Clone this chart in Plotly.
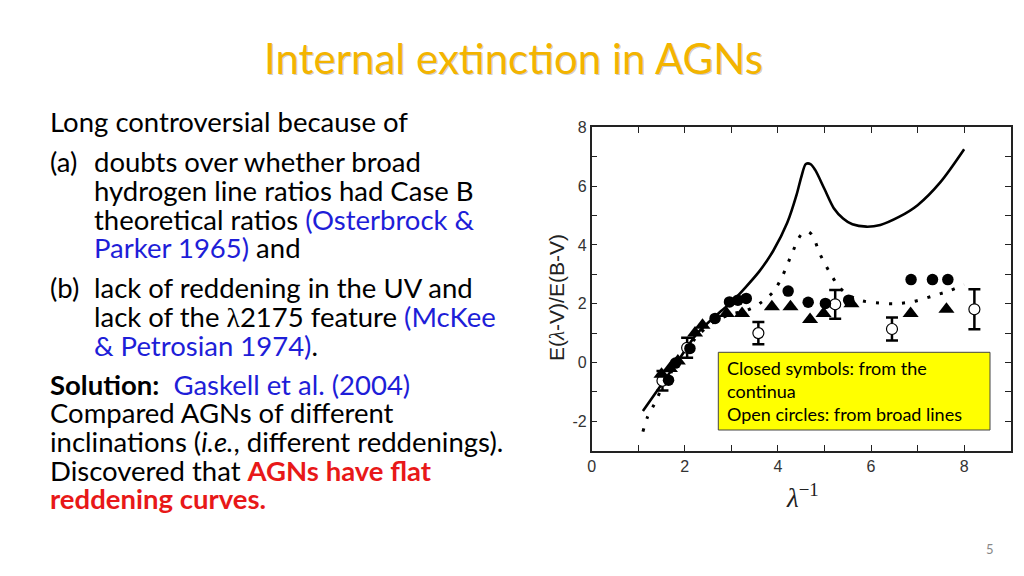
import plotly.graph_objects as go

# ---------------- data ----------------
solid_x = [1.1, 1.5, 1.83, 2.27, 2.78, 3.0, 3.3, 3.6, 3.9, 4.2, 4.4, 4.5, 4.6, 4.7, 4.8, 5.0, 5.2, 5.4, 5.6, 5.9, 6.2, 6.6, 7.0, 7.5, 8.0]
solid_y = [-1.65, -0.75, 0.0, 1.0, 1.75, 2.05, 2.55, 3.1, 3.8, 4.75, 5.7, 6.3, 6.75, 6.75, 6.55, 5.9, 5.25, 4.9, 4.7, 4.62, 4.68, 4.95, 5.35, 6.15, 7.25]

dotted_x = [1.1, 1.2, 1.35, 1.5, 1.8, 2.0, 2.3, 2.6, 3.0, 3.3, 3.6, 3.9, 4.1, 4.3, 4.5, 4.65, 4.75, 4.9, 5.1, 5.3, 5.5, 5.8, 6.1, 6.5, 6.9, 7.3, 7.7, 8.0]
dotted_y = [-2.35, -1.85, -1.4, -0.9, -0.1, 0.35, 0.95, 1.35, 1.65, 1.75, 2.0, 2.4, 2.95, 3.7, 4.35, 4.45, 4.3, 3.7, 3.1, 2.6, 2.3, 2.1, 2.03, 2.0, 2.07, 2.25, 2.45, 2.65]

circle_x = [1.65, 1.80, 2.11, 2.65, 2.96, 3.14, 3.32, 4.22, 4.65, 5.02, 5.52, 6.86, 7.32, 7.65]
circle_y = [-0.6, -0.02, 0.48, 1.5, 2.06, 2.12, 2.18, 2.43, 2.05, 2.01, 2.12, 2.82, 2.82, 2.82]

tri_x = [1.50, 1.68, 1.85, 2.22, 2.38, 2.90, 3.23, 3.87, 4.27, 4.69, 4.98, 5.58, 6.85, 7.62]
tri_y = [-0.4, -0.2, 0.05, 1.0, 1.27, 1.67, 1.67, 1.9, 1.9, 1.46, 1.67, 2.0, 1.67, 1.81]

open_x = [1.52, 2.05, 3.58, 5.23, 6.45, 8.22]
open_y = [-0.62, 0.5, 1.0, 1.98, 1.14, 1.81]
open_err = [0.33, 0.34, 0.38, 0.49, 0.39, 0.68]

x_ticks = [0, 2, 4, 6, 8]
x_tick_labels = ["0", "2", "4", "6", "8"]
y_ticks = [-2, 0, 2, 4, 6, 8]
y_tick_labels = ["-2", "0", "2", "4", "6", "8"]

# ---------------- helpers ----------------
W, H = 1024, 576
OFF = 8  # page body margin of the html page
def xp(px):
    return (px - OFF) / W
def yp(py):
    return 1 - (py - OFF) / H

fig = go.Figure()

fig.add_trace(go.Scatter(x=solid_x, y=solid_y, mode="lines",
                         line=dict(color="black", width=2.6, shape="spline", smoothing=0.8),
                         hoverinfo="skip", showlegend=False))
fig.add_trace(go.Scatter(x=dotted_x, y=dotted_y, mode="lines",
                         line=dict(color="black", width=3, shape="spline", smoothing=0.8, dash="3px,10px"),
                         hoverinfo="skip", showlegend=False))
fig.add_trace(go.Scatter(x=open_x, y=open_y, mode="markers",
                         marker=dict(symbol="circle", size=11, color="white",
                                     line=dict(color="black", width=1.2)),
                         error_y=dict(type="data", array=open_err, visible=True,
                                      color="black", thickness=2.5, width=6),
                         showlegend=False))
fig.add_trace(go.Scatter(x=tri_x, y=tri_y, mode="markers",
                         marker=dict(symbol="triangle-up", size=14, color="black"),
                         showlegend=False))
fig.add_trace(go.Scatter(x=circle_x, y=circle_y, mode="markers",
                         marker=dict(symbol="circle", size=11.5, color="black"),
                         showlegend=False))

axis_common = dict(showgrid=False, zeroline=False, showline=True, linecolor="#222",
                   linewidth=1.5, mirror="allticks", ticks="inside", ticklen=6,
                   tickwidth=1.3, tickcolor="#222", automargin=False,
                   minor=dict(ticks="inside", ticklen=6, tickwidth=1.3, tickcolor="#222",
                              dtick=1, tick0=0, showgrid=False),
                   tickfont=dict(family="Liberation Sans, Arial", size=16, color="#333"))

fig.update_layout(
    width=W, height=H, autosize=False,
    margin=dict(l=0, r=0, t=0, b=0, pad=0),
    paper_bgcolor="white", plot_bgcolor="white",
    xaxis=dict(range=[0, 9], domain=[xp(591.7), xp(1010.7)],
               tickmode="array", tickvals=x_ticks, ticktext=x_tick_labels, **axis_common),
    yaxis=dict(range=[-3, 8], domain=[yp(450.7), yp(127.3)],
               tickmode="array", tickvals=y_ticks, ticktext=y_tick_labels, **axis_common),
)

ann = []
def add_text(x, y, text, size=27.5, color="black", family="Lato", anchor="left", **kw):
    ann.append(dict(x=xp(x), y=yp(y), xref="paper", yref="paper", text=text,
                    showarrow=False, xanchor=anchor, yanchor="middle",
                    font=dict(family=family, size=size, color=color), **kw))

# title with shadow
add_text(514.5, 59.5, "Internal extinction in AGNs", size=42, color="rgba(0,0,0,0.2)", anchor="center")
add_text(513, 58, "Internal extinction in AGNs", size=42, color="#F3B400", anchor="center")

BLUE = "#1E1ED8"
RED = "#E81818"
def blue(t):
    return f"<span style='color:{BLUE}'>{t}</span>"
def red(t):
    return f"<span style='color:{RED}'><b>{t}</b></span>"

L0, L1 = 48, 92
add_text(L0, 122, "Long controversial because of")
add_text(L0, 161, "(a)")
add_text(L1, 161, "doubts over whether broad")
add_text(L1, 190, "hydrogen line ratios had Case B")
add_text(L1, 219, "theoretical ratios " + blue("(Osterbrock &amp;"))
add_text(L1, 247, blue("Parker 1965)") + " and")
add_text(L0, 287, "(b)")
add_text(L1, 287, "lack of reddening in the UV and")
add_text(L1, 316, "lack of the <span style='font-family:Liberation Serif'>λ</span>2175 feature " + blue("(McKee"))
add_text(L1, 345, blue("&amp; Petrosian 1974)") + ".")
add_text(L0, 384, "<b>Solution:</b>  " + blue("Gaskell et al. (2004)"))
add_text(L0, 412, "Compared AGNs of different")
add_text(L0, 441, "inclinations (<i>i.e.</i>, different reddenings).")
add_text(L0, 470, "Discovered that " + red("AGNs have flat"))
add_text(L0, 498, red("reddening curves."))

# axis titles
ann.append(dict(x=xp(557), y=yp(298), xref="paper", yref="paper",
                text="E(<span style='font-family:Liberation Serif'><i>λ</i></span>-V)/E(B-V)",
                textangle=-90, showarrow=False, xanchor="center", yanchor="middle",
                font=dict(family="Liberation Sans, Arial", size=21, color="#222")))
ann.append(dict(x=xp(802), y=yp(496), xref="paper", yref="paper",
                text="<i>λ</i><sup>−1</sup>", showarrow=False, xanchor="center", yanchor="middle",
                font=dict(family="Liberation Serif", size=27, color="#222")))

# legend box text
add_text(725, 368, "Closed symbols: from the", size=18)
add_text(725, 391, "continua", size=18)
add_text(725, 414, "Open circles: from broad lines", size=18)

# page number
add_text(990, 549, "5", size=13, color="#888", anchor="center")

fig.update_layout(annotations=ann)
fig.add_shape(type="rect", xref="paper", yref="paper",
              x0=xp(718.3), x1=xp(990), y0=yp(430), y1=yp(352.3),
              fillcolor="#FFFF00", line=dict(color="#444", width=1), layer="above")

fig.write_html("out.html")
